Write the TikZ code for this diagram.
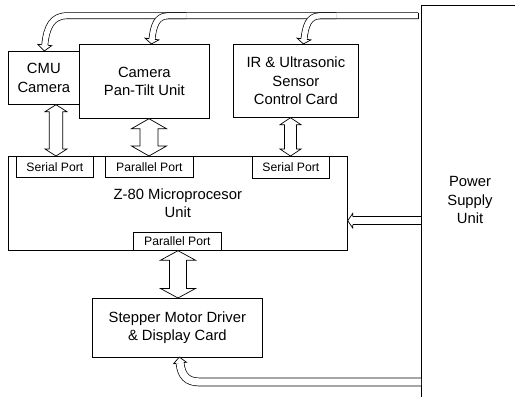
\documentclass[tikz,border=0pt]{standalone}
\usepackage{fontspec}
\setmainfont{Liberation Sans}
\usetikzlibrary{calc,decorations.markings}
\newcommand\mainf{\fontsize{14.8bp}{18.6bp}\selectfont}
\newcommand\portf{\fontsize{12.2bp}{14bp}\selectfont}
% hollow pipe with hollow head: #1 inner width, #2 head half width, #3 head length, #4 path
\newcommand\pipe[4]{%
  \draw[black, line width=#1bp+1.4bp, line cap=butt, line join=round] #4;
  \draw[white, line width=#1bp, line cap=butt, line join=round,
    postaction={decorate, decoration={markings, mark=at position 1 with {%
      \filldraw[black, fill=white, line width=0.7bp, line join=miter]
        (0,#1/2+0.35) -- (0,#2) -- (#3,0) -- (0,-#2) -- (0,-#1/2-0.35);}}}] #4;
}
% vertical double block arrow: #1 top tip, #2 bottom tip, #3 shaft half, #4 head half, #5 head length
\newcommand\vdarrow[5]{%
  \coordinate (vt) at (#1);
  \coordinate (vb) at (#2);
  \filldraw[arrowbody] (vt) -- ++(#4,#5) -- ++(#3-#4,0) -- ($(vb)+(#3,-#5)$)
    -- ++(#4-#3,0) -- (vb) -- ++(-#4,-#5) -- ++(#4-#3,0)
    -- ($(vt)+(-#3,#5)$) -- ++(#3-#4,0) -- cycle;
}
\begin{document}
\begin{tikzpicture}[x=1bp,y=-1bp,line width=0.7bp,
  box/.style={draw, line width=0.7bp, inner sep=0pt, align=center, font=\mainf, anchor=north west},
  port/.style={box, font=\portf},
  lbl/.style={align=center, font=\mainf, inner sep=0pt},
  arrowbody/.style={draw=black, fill=white, line width=0.7bp, line join=miter}]
\useasboundingbox (0,0) rectangle (515,396);
\clip (0,0) rectangle (515,396);

% boxes
\node[box, minimum width=120bp, minimum height=430bp] (psu) at (421,5) {};
\node[lbl] (psulabel) at (470,200) {Power\\Supply\\Unit};
\node[box, minimum width=71bp, minimum height=53bp] (cmu) at (8,51) {CMU\\Camera};
\node[box, minimum width=130bp, minimum height=74bp] (pan) at (79,44) {Camera\\Pan-Tilt Unit};
\node[box, minimum width=125bp, minimum height=73bp] (ir) at (233,44) {IR \& Ultrasonic\\Sensor\\Control Card};
\node[box, minimum width=339bp, minimum height=94bp] (z80) at (8,156) {Z-80 Microprocesor\\Unit};
\node[port, minimum width=77bp, minimum height=21bp] (sp1) at (16,156) {Serial Port};
\node[port, minimum width=88bp, minimum height=21bp] (pp1) at (105,156) {Parallel Port};
\node[port, minimum width=77bp, minimum height=21.5bp] (sp2) at (252,156) {Serial Port};
\node[port, minimum width=88bp, minimum height=18bp] (pp2) at (133,232) {Parallel Port};
\node[box, minimum width=170bp, minimum height=59bp] (step) at (92,298) {Stepper Motor Driver\\\& Display Card};

% data double arrows
\coordinate (ax1) at (56,0);
\coordinate (ax2) at (149,0);
\coordinate (ax3) at (290.5,0);
\coordinate (ax4) at (178,0);
\vdarrow{ax1 |- cmu.south}{ax1 |- sp1.north}{6.7}{11}{7}
\vdarrow{ax2 |- pan.south}{ax2 |- pp1.north}{9}{17.5}{10}
\vdarrow{ax3 |- ir.south}{ax3 |- sp2.north}{6}{10.5}{7}
\vdarrow{ax4 |- pp2.south}{ax4 |- step.north}{8.5}{17.5}{9.5}

% power pipes
\coordinate (busR) at ($(psu.north west)+(-3,10.75)$);
\pipe{5.4}{7}{6}{(busR) -- (67,15.75) .. controls (52,15.75) and (46.5,27) .. (44.8,45)}
\draw (busR) ++(0,-3.05) -- ++(0,6.1);
\pipe{5.4}{7}{5}{(186,15.75) -- (168,15.75) .. controls (156,15.75) and (153.5,27) .. (152,39)}
\pipe{5.4}{7}{5}{(336,15.75) -- (320,15.75) .. controls (308,15.75) and (305.5,27) .. (304,39)}
\coordinate (zin) at ($(z80.south east)+(0,-30)$);
\pipe{7.3}{7.3}{5}{(zin -| psu.west) -- ($(zin)+(5,0)$)}
\coordinate (bb) at (0,382);
\pipe{7.3}{6.5}{6}{(bb -| psu.west) -- (200,382) .. controls (187,382) and (181.5,376) .. (180,363)}
\end{tikzpicture}
\end{document}
